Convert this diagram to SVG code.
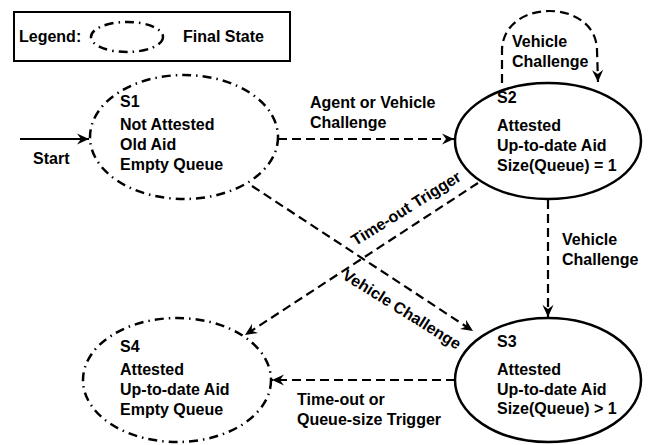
<svg xmlns="http://www.w3.org/2000/svg" width="667" height="445" viewBox="0 0 667 445">
<style>
text{font-family:"Liberation Sans",Arial,sans-serif;font-weight:bold;font-size:16px;fill:#000}
.final{fill:none;stroke:#000;stroke-width:2.5;stroke-dasharray:9 5 1.5 5}
.state{fill:none;stroke:#000;stroke-width:2.5}
.edge{fill:none;stroke:#000;stroke-width:2.2;stroke-dasharray:9 5}
.solid{fill:none;stroke:#000;stroke-width:2.2}
</style>
<defs>
<marker id="arr" markerWidth="14" markerHeight="12" refX="12" refY="6" orient="auto" markerUnits="userSpaceOnUse">
<path d="M0,0.5 L12,6 L0,11.5 L4,6 Z" fill="#000"/>
</marker>
</defs>
<g id="legend">
<rect x="14" y="12" width="276" height="49" fill="#fff" stroke="#000" stroke-width="2"/>
<text x="19" y="42">Legend:</text>
<ellipse cx="127" cy="37" rx="36" ry="15" class="final"/>
<text x="183" y="42">Final State</text>
</g>
<g id="S1">
<ellipse cx="184" cy="137" rx="94" ry="62" class="final"/>
<text x="120" y="107">S1</text>
<text x="120" y="130">Not Attested</text>
<text x="120" y="150">Old Aid</text>
<text x="120" y="170">Empty Queue</text>
</g>
<g id="S2">
<ellipse cx="548" cy="141" rx="93" ry="58" class="state"/>
<text x="497" y="103">S2</text>
<text x="497" y="131">Attested</text>
<text x="497" y="151">Up-to-date Aid</text>
<text x="497" y="171">Size(Queue) = 1</text>
</g>
<g id="S3">
<ellipse cx="548" cy="380" rx="93" ry="62" class="state"/>
<text x="497" y="347">S3</text>
<text x="497" y="375">Attested</text>
<text x="497" y="395">Up-to-date Aid</text>
<text x="497" y="414">Size(Queue) &gt; 1</text>
</g>
<g id="S4">
<ellipse cx="177" cy="380" rx="94" ry="62" class="final"/>
<text x="120" y="352">S4</text>
<text x="120" y="375">Attested</text>
<text x="120" y="395">Up-to-date Aid</text>
<text x="120" y="415">Empty Queue</text>
</g>
<g id="connectors">
<path d="M20,139 L89,139" class="solid" marker-end="url(#arr)"/>
<text x="33" y="164">Start</text>
<path d="M278,139 L454,139" class="edge" marker-end="url(#arr)"/>
<text x="310" y="108">Agent or Vehicle</text>
<text x="310" y="128">Challenge</text>
<path d="M502,83 L502,50 C503,-2 596,-2 597,50 L598,82" class="edge" marker-end="url(#arr)"/>
<text x="512" y="47">Vehicle</text>
<text x="512" y="67">Challenge</text>
<path d="M548,200 L548,317" class="edge" marker-end="url(#arr)"/>
<text x="562" y="245">Vehicle</text>
<text x="562" y="265">Challenge</text>
<path d="M455,380 L272,380" class="edge" marker-end="url(#arr)"/>
<text x="297" y="405">Time-out or</text>
<text x="297" y="425">Queue-size Trigger</text>
<path d="M478,183 L245,335" class="edge" marker-end="url(#arr)"/>
<text transform="translate(409,213) rotate(-32)" text-anchor="middle">Time-out Trigger</text>
<path d="M252,186 L473,331" class="edge" marker-end="url(#arr)"/>
<text transform="translate(399,314) rotate(32)" text-anchor="middle">Vehicle Challenge</text>
</g>
</svg>
